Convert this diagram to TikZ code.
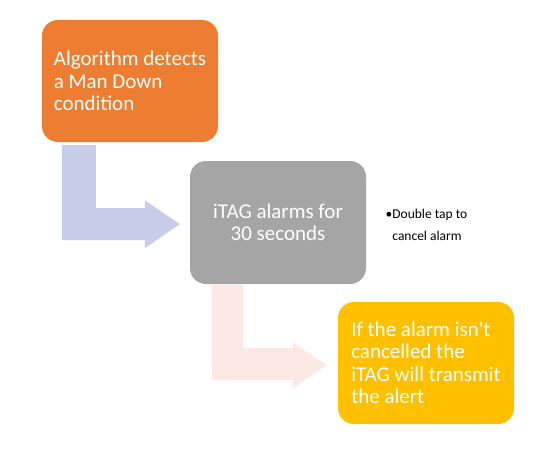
\documentclass[tikz,border=0pt]{standalone}
\usepackage{fontspec}
\setmainfont{Carlito}
\usetikzlibrary{calc,positioning}
\definecolor{mdOrange}{HTML}{ED7D31}
\definecolor{mdGray}{HTML}{A5A5A5}
\definecolor{mdYellow}{HTML}{FFC000}
\definecolor{mdBlue}{HTML}{C8CEE9}
\definecolor{mdPink}{HTML}{FCE9E6}

\begin{document}
\begin{tikzpicture}[x=1pt,y=-1pt,
  stagebox/.style={rectangle,rounded corners=16pt,minimum width=176pt,minimum height=122pt,
    inner sep=0pt,text=white,font=\fontsize{21}{22.5}\selectfont}]
\useasboundingbox (0,0) rectangle (554,460);
\node[stagebox,fill=mdOrange,align=left] (detect) at (130,81) {Algorithm detects\\a Man Down\\condition};
\node[stagebox,fill=mdGray,align=center,minimum height=123pt] (itag) at (278,222.5) {iTAG alarms for\\30 seconds};
\node[stagebox,fill=mdYellow,align=left] (transmit) at (426,363) {If the alarm isn\textquotesingle t\\cancelled the\\iTAG will transmit\\the alert};
% bent arrows between the stages
\coordinate (a1) at ($(detect.south west)+(20,3)$);
\coordinate (a2) at ($(itag.south west)+(22,1)$);
\fill[mdBlue] (a1) -- ++(34,0) -- ++(0,63) -- ++(49,0) -- ++(0,-8) -- ++(35,24) -- ++(-35,24) -- ++(0,-8) -- ++(-83,0) -- cycle;
\fill[mdPink] (a2) -- ++(31,0) -- ++(0,63) -- ++(50,0) -- ++(0,-6) -- ++(34,23) -- ++(-34,23) -- ++(0,-8) -- ++(-81,0) -- cycle;
% side note
\node[anchor=west,inner sep=0pt,align=left,font=\fontsize{13.5}{22}\selectfont] (cancel) at ($(itag.east)+(26,2)$) {\llap{•}Double tap to\\cancel alarm};
\end{tikzpicture}
\end{document}
